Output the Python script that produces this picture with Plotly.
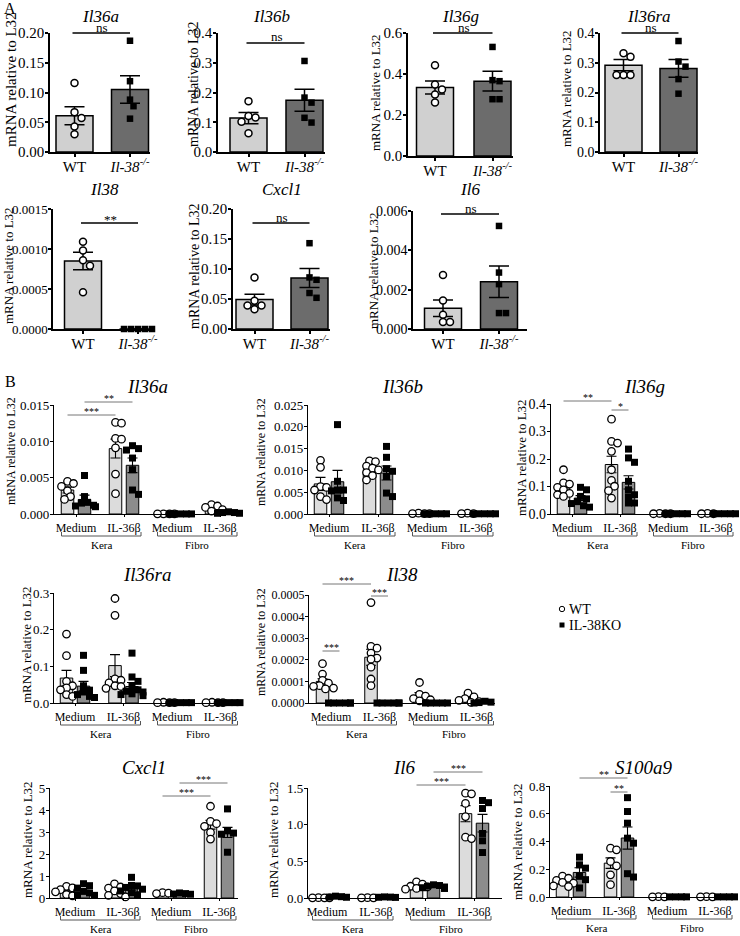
import plotly.graph_objects as go

# ================= DATA =================
# ---- Panel A (WT vs Il-38-/-) ----
A_genes = ["Il36a", "Il36b", "Il36g", "Il36ra", "Il38", "Cxcl1", "Il6"]
A_groups = ["WT", "<i>Il-38<sup>-/-</sup></i>"]
A_sig = ["ns", "ns", "ns", "ns", "**", "ns", "ns"]

A_Il36a_WT = [0.116, 0.067, 0.057, 0.043, 0.030]
A_Il36a_KO = [0.187, 0.119, 0.088, 0.077, 0.056]
A_Il36a_bar = [0.061, 0.105]
A_Il36a_sem = [0.015, 0.023]

A_Il36b_WT = [0.171, 0.121, 0.116, 0.102, 0.063]
A_Il36b_KO = [0.306, 0.183, 0.166, 0.115, 0.099]
A_Il36b_bar = [0.114, 0.174]
A_Il36b_sem = [0.019, 0.037]

A_Il36g_WT = [0.443, 0.349, 0.324, 0.300, 0.261]
A_Il36g_KO = [0.532, 0.370, 0.365, 0.277, 0.277]
A_Il36g_bar = [0.334, 0.365]
A_Il36g_sem = [0.032, 0.048]

A_Il36ra_WT = [0.332, 0.320, 0.259, 0.259, 0.259]
A_Il36ra_KO = [0.373, 0.304, 0.287, 0.245, 0.196]
A_Il36ra_bar = [0.292, 0.281]
A_Il36ra_sem = [0.019, 0.030]

A_Il38_WT = [0.00109, 0.00098, 0.00086, 0.00079, 0.00046]
A_Il38_KO = [0.0, 0.0, 0.0, 0.0, 0.0]
A_Il38_bar = [0.00085, 0.0]
A_Il38_sem = [0.00011, 0.0]

A_Cxcl1_WT = [0.086, 0.047, 0.039, 0.039, 0.033]
A_Cxcl1_KO = [0.143, 0.086, 0.082, 0.060, 0.052]
A_Cxcl1_bar = [0.049, 0.085]
A_Cxcl1_sem = [0.009, 0.016]

A_Il6_WT = [0.00275, 0.00145, 0.00072, 0.00036, 0.00036]
A_Il6_KO = [0.00524, 0.00287, 0.00228, 0.00081, 0.00081]
A_Il6_bar = [0.00105, 0.0024]
A_Il6_sem = [0.00042, 0.0008]

# ---- Panel B (Kera / Fibro, Medium / IL-36b) ----
B_conditions = ["Medium", "IL-36β", "Medium", "IL-36β"]
B_cells = ["Kera", "Fibro"]
B_legend = ["WT", "IL-38KO"]
B_genes = ["Il36a", "Il36b", "Il36g", "Il36ra", "Il38", "Cxcl1", "Il6", "S100a9"]

B_Il36a_WT = [[0.0045, 0.0042, 0.0038, 0.0032, 0.0024, 0.0020],
              [0.0126, 0.0125, 0.0104, 0.0103, 0.0091, 0.0055, 0.0028],
              [0.00003, 0.00002, 0.00002, 0.00001],
              [0.0013, 0.0011, 0.0009, 0.0006, 0.0004]]
B_Il36a_KO = [[0.0053, 0.0024, 0.0016, 0.0015, 0.0012, 0.0011, 0.0010],
              [0.0094, 0.0090, 0.0088, 0.0077, 0.0061, 0.0033, 0.0027],
              [0.00001, 0.00001, 0.00001, 0.00001, 0.00001],
              [0.0003, 0.0002, 0.0002, 0.0001, 0.0001]]
B_Il36a_WT_bar = [0.0033, 0.0090, 0.00002, 0.0008]
B_Il36a_WT_sem = [0.0004, 0.0013, 0.00001, 0.0002]
B_Il36a_KO_bar = [0.0020, 0.0067, 0.00001, 0.0002]
B_Il36a_KO_sem = [0.0006, 0.0010, 0.0, 0.00005]

B_Il36b_WT = [[0.0123, 0.0107, 0.0063, 0.0061, 0.0055, 0.0040, 0.0033],
              [0.0122, 0.0120, 0.0110, 0.0105, 0.0101, 0.0095, 0.0088, 0.0078],
              [0.0002, 0.0001, 0.0001, 0.0001],
              [0.0002, 0.0001, 0.0001]]
B_Il36b_KO = [[0.0205, 0.0075, 0.0055, 0.0055, 0.0053, 0.0037, 0.0031],
              [0.0155, 0.0130, 0.0104, 0.0098, 0.0086, 0.0048, 0.0040],
              [0.00005, 0.00005, 0.00005, 0.00005, 0.00005],
              [0.00005, 0.00005, 0.00005, 0.00005, 0.00005]]
B_Il36b_WT_bar = [0.0069, 0.0102, 0.0001, 0.0001]
B_Il36b_WT_sem = [0.0015, 0.0005, 0.00002, 0.00002]
B_Il36b_KO_bar = [0.0074, 0.0094, 0.00005, 0.00005]
B_Il36b_KO_sem = [0.0026, 0.0016, 0.0, 0.0]

B_Il36g_WT = [[0.161, 0.113, 0.109, 0.097, 0.088, 0.075, 0.070, 0.064],
              [0.345, 0.264, 0.258, 0.228, 0.161, 0.122, 0.101, 0.085, 0.058],
              [0.002, 0.001, 0.001, 0.001],
              [0.002, 0.001, 0.001]]
B_Il36g_KO = [[0.097, 0.088, 0.064, 0.055, 0.045, 0.038, 0.030, 0.025],
              [0.236, 0.204, 0.188, 0.119, 0.088, 0.070, 0.062, 0.040, 0.040],
              [0.001, 0.001, 0.001, 0.001, 0.001],
              [0.001, 0.001, 0.001, 0.001, 0.001]]
B_Il36g_WT_bar = [0.095, 0.180, 0.001, 0.001]
B_Il36g_WT_sem = [0.011, 0.030, 0.0003, 0.0003]
B_Il36g_KO_bar = [0.058, 0.115, 0.001, 0.001]
B_Il36g_KO_sem = [0.009, 0.024, 0.0, 0.0]

B_Il36ra_WT = [[0.188, 0.129, 0.059, 0.047, 0.041, 0.036, 0.023, 0.018],
               [0.285, 0.239, 0.066, 0.062, 0.055, 0.047, 0.045, 0.040],
               [0.002, 0.001, 0.001, 0.001],
               [0.002, 0.001, 0.001, 0.001]]
B_Il36ra_KO = [[0.130, 0.089, 0.047, 0.035, 0.030, 0.023, 0.018, 0.015],
               [0.136, 0.071, 0.059, 0.045, 0.036, 0.032, 0.030, 0.025, 0.023, 0.020],
               [0.001, 0.001, 0.001, 0.001, 0.001],
               [0.001, 0.001, 0.001, 0.001, 0.001]]
B_Il36ra_WT_bar = [0.068, 0.102, 0.001, 0.001]
B_Il36ra_WT_sem = [0.021, 0.030, 0.0003, 0.0003]
B_Il36ra_KO_bar = [0.046, 0.045, 0.001, 0.001]
B_Il36ra_KO_sem = [0.013, 0.011, 0.0, 0.0]

B_Il38_WT = [[0.000182, 0.000134, 0.000105, 0.000092, 0.000080, 0.000077, 0.000069, 0.000065],
             [0.000465, 0.000262, 0.000254, 0.000231, 0.000208, 0.000203, 0.000166, 0.000111, 0.000080],
             [0.000095, 0.000040, 0.000032, 0.000020, 0.000015, 0.000010],
             [0.000046, 0.000028, 0.000020, 0.000012, 0.000006, 0.000003]]
B_Il38_KO = [[0.0, 0.0, 0.0, 0.0, 0.0, 0.0],
             [0.0, 0.0, 0.0, 0.0, 0.0, 0.0],
             [0.0, 0.0, 0.0, 0.0, 0.0],
             [0.000008, 0.000004, 0.000002, 0.0, 0.0]]
B_Il38_WT_bar = [0.000100, 0.000212, 0.000035, 0.000019]
B_Il38_WT_sem = [0.000012, 0.000037, 0.000013, 0.000007]
B_Il38_KO_bar = [0.0, 0.0, 0.0, 0.000003]
B_Il38_KO_sem = [0.0, 0.0, 0.0, 0.000002]

B_Cxcl1_WT = [[0.53, 0.46, 0.38, 0.32, 0.28, 0.16, 0.10],
              [0.64, 0.50, 0.45, 0.32, 0.20, 0.12, 0.05],
              [0.24, 0.22, 0.20],
              [4.17, 3.48, 3.38, 3.26, 2.98, 2.68]]
B_Cxcl1_KO = [[0.65, 0.56, 0.45, 0.30, 0.23, 0.15, 0.12],
              [0.94, 0.57, 0.55, 0.48, 0.40, 0.32, 0.24, 0.15],
              [0.23, 0.20, 0.18, 0.17],
              [4.05, 3.05, 2.95, 2.90, 2.85, 2.08]]
B_Cxcl1_WT_bar = [0.32, 0.33, 0.21, 3.33]
B_Cxcl1_WT_sem = [0.06, 0.08, 0.02, 0.20]
B_Cxcl1_KO_bar = [0.35, 0.45, 0.19, 2.98]
B_Cxcl1_KO_sem = [0.07, 0.09, 0.01, 0.23]

B_Il6_WT = [[0.004, 0.003, 0.002, 0.002],
            [0.004, 0.003, 0.002],
            [0.22, 0.19, 0.16, 0.15, 0.13, 0.12],
            [1.43, 1.42, 1.29, 1.11, 0.83, 0.81]]
B_Il6_KO = [[0.025, 0.018, 0.012, 0.010],
            [0.015, 0.012, 0.010, 0.008],
            [0.18, 0.17, 0.16, 0.15, 0.14, 0.13],
            [1.33, 1.30, 1.22, 0.88, 0.78, 0.62]]
B_Il6_WT_bar = [0.003, 0.003, 0.16, 1.15]
B_Il6_WT_sem = [0.0005, 0.0005, 0.015, 0.11]
B_Il6_KO_bar = [0.016, 0.011, 0.155, 1.02]
B_Il6_KO_sem = [0.004, 0.002, 0.008, 0.12]

B_S100a9_WT = [[0.150, 0.135, 0.120, 0.105, 0.100, 0.080, 0.075],
               [0.352, 0.340, 0.256, 0.225, 0.160, 0.089],
               [0.002, 0.001, 0.001],
               [0.002, 0.001, 0.001]]
B_S100a9_KO = [[0.287, 0.232, 0.208, 0.149, 0.125, 0.065],
               [0.716, 0.616, 0.532, 0.424, 0.388, 0.168, 0.144],
               [0.001, 0.001, 0.001, 0.001],
               [0.001, 0.001, 0.001, 0.001]]
B_S100a9_WT_bar = [0.105, 0.244, 0.001, 0.001]
B_S100a9_WT_sem = [0.012, 0.038, 0.0003, 0.0003]
B_S100a9_KO_bar = [0.177, 0.425, 0.001, 0.001]
B_S100a9_KO_sem = [0.034, 0.080, 0.0, 0.0]

# ================= LAYOUT / STYLE =================
W, H = 740, 936
FONT = "Liberation Serif, Times New Roman, serif"
A_WT_COL, A_KO_COL = "#d0d0d0", "#6c6c6c"
B_WT_COL, B_KO_COL = "#dcdcdc", "#8c8c8c"

A_data = {
    "Il36a": (A_Il36a_WT, A_Il36a_KO, A_Il36a_bar, A_Il36a_sem),
    "Il36b": (A_Il36b_WT, A_Il36b_KO, A_Il36b_bar, A_Il36b_sem),
    "Il36g": (A_Il36g_WT, A_Il36g_KO, A_Il36g_bar, A_Il36g_sem),
    "Il36ra": (A_Il36ra_WT, A_Il36ra_KO, A_Il36ra_bar, A_Il36ra_sem),
    "Il38": (A_Il38_WT, A_Il38_KO, A_Il38_bar, A_Il38_sem),
    "Cxcl1": (A_Cxcl1_WT, A_Cxcl1_KO, A_Cxcl1_bar, A_Cxcl1_sem),
    "Il6": (A_Il6_WT, A_Il6_KO, A_Il6_bar, A_Il6_sem),
}
B_data = {
    "Il36a": (B_Il36a_WT, B_Il36a_KO, B_Il36a_WT_bar, B_Il36a_WT_sem, B_Il36a_KO_bar, B_Il36a_KO_sem),
    "Il36b": (B_Il36b_WT, B_Il36b_KO, B_Il36b_WT_bar, B_Il36b_WT_sem, B_Il36b_KO_bar, B_Il36b_KO_sem),
    "Il36g": (B_Il36g_WT, B_Il36g_KO, B_Il36g_WT_bar, B_Il36g_WT_sem, B_Il36g_KO_bar, B_Il36g_KO_sem),
    "Il36ra": (B_Il36ra_WT, B_Il36ra_KO, B_Il36ra_WT_bar, B_Il36ra_WT_sem, B_Il36ra_KO_bar, B_Il36ra_KO_sem),
    "Il38": (B_Il38_WT, B_Il38_KO, B_Il38_WT_bar, B_Il38_WT_sem, B_Il38_KO_bar, B_Il38_KO_sem),
    "Cxcl1": (B_Cxcl1_WT, B_Cxcl1_KO, B_Cxcl1_WT_bar, B_Cxcl1_WT_sem, B_Cxcl1_KO_bar, B_Cxcl1_KO_sem),
    "Il6": (B_Il6_WT, B_Il6_KO, B_Il6_WT_bar, B_Il6_WT_sem, B_Il6_KO_bar, B_Il6_KO_sem),
    "S100a9": (B_S100a9_WT, B_S100a9_KO, B_S100a9_WT_bar, B_S100a9_WT_sem, B_S100a9_KO_bar, B_S100a9_KO_sem),
}

# pixel geometry of each subplot (layout only)
A_geom = [
    dict(ax=50, end=150, wt=74.5, ko=130, top=33, zero=152, ymax=0.20, dtick=0.05, fmt=".2f", tf=15, sig_y=33, yt=(11, 80, 15), ty=16),
    dict(ax=218, end=325, wt=248.5, ko=304.5, top=33, zero=152, ymax=0.4, dtick=0.1, fmt=".1f", tf=15, sig_y=43, yt=(193, 84, 14), ty=16),
    dict(ax=408, end=513, wt=435, ko=492.5, top=33, zero=156, ymax=0.6, dtick=0.2, fmt=".1f", tf=15, sig_y=33, yt=(376, 93, 13), ty=16),
    dict(ax=600, end=698, wt=623.5, ko=678.5, top=33, zero=152, ymax=0.4, dtick=0.1, fmt=".1f", tf=14, sig_y=33, yt=(566, 89, 13), ty=16),
    dict(ax=53, end=155, wt=83, ko=138, top=209, zero=329, ymax=0.0015, dtick=0.0005, fmt=".4f", tf=13, sig_y=223, yt=(8, 266, 13), ty=190),
    dict(ax=233, end=330, wt=254.5, ko=309.5, top=209, zero=329, ymax=0.20, dtick=0.05, fmt=".2f", tf=15, sig_y=223, yt=(194, 266, 14), ty=190),
    dict(ax=413, end=527, wt=443, ko=499, top=211, zero=329, ymax=0.006, dtick=0.002, fmt=".3f", tf=14, sig_y=214, yt=(373, 270, 13), ty=190),
]
B_geom = [
    dict(ax=54, end=240, g0=76, sp=48, top=405, zero=514, ymax=0.015, dtick=0.005, fmt=".3f", tf=13, yt=(11, 451, 12), ty=386),
    dict(ax=308, end=497, g0=329, sp=49, top=405, zero=514, ymax=0.025, dtick=0.005, fmt=".3f", tf=13, yt=(261, 452, 12), ty=386),
    dict(ax=551, end=737, g0=572, sp=48, top=404, zero=514, ymax=0.4, dtick=0.1, fmt=".1f", tf=14, yt=(521, 458, 13), ty=386),
    dict(ax=54, end=240, g0=75, sp=48.5, top=593, zero=703, ymax=0.3, dtick=0.1, fmt=".1f", tf=13, yt=(26, 645, 13), ty=574),
    dict(ax=309, end=495, g0=331, sp=48.5, top=595, zero=703, ymax=0.0005, dtick=0.0001, fmt=".4f", tf=12, yt=(261, 642, 12), ty=574),
    dict(ax=50, end=238, g0=75, sp=48, top=788, zero=898, ymax=5, dtick=1, fmt="d", tf=13, yt=(27, 840, 13), ty=767),
    dict(ax=308, end=502, g0=327, sp=49, top=788, zero=898, ymax=1.5, dtick=0.5, fmt=".1f", tf=13, yt=(273, 840, 13), ty=767),
    dict(ax=550, end=738, g0=571, sp=48, top=786, zero=897, ymax=0.8, dtick=0.2, fmt=".1f", tf=13, yt=(517, 842, 13), ty=767),
]
# significance brackets in B: (gene index, (group, genotype), (group, genotype), line y px, label)
B_sig = [
    (0, (0, 0), (1, 0), 415, "***"), (0, (0, 1), (1, 1), 402, "**"),
    (2, (0, 0), (1, 0), 401, "**"), (2, (1, 0), (1, 1), 410, "*"),
    (4, (0, 0), (1, 0), 584, "***"), (4, (0, 0), (0, 1), 651, "***"), (4, (1, 0), (1, 1), 596, "***"),
    (5, (2, 0), (3, 0), 796, "***"), (5, (2, 1), (3, 1), 783, "***"),
    (6, (2, 0), (3, 0), 785, "***"), (6, (2, 1), (3, 1), 772, "***"),
    (7, (0, 1), (1, 1), 778, "**"), (7, (1, 0), (1, 1), 792, "**"),
]
B_OFF, B_BW = 8.5, 12.5


def PX(x):
    return x / W


def PY(y):
    return 1 - y / H


def swarm(vals, ppu_y, ppu_x, d, maxhw):
    placed = []
    res = [0.0] * len(vals)
    order = sorted(range(len(vals)), key=lambda i: -vals[i])
    cands = [0.0]
    for j in range(1, 40):
        cands += [j * d * 0.5, -j * d * 0.5]
    for i in order:
        y = vals[i] * ppu_y
        chosen = cands[-1]
        for c in cands:
            if all((c - px) ** 2 + (y - py) ** 2 >= d * d for px, py in placed):
                chosen = c
                break
        chosen = max(-maxhw, min(maxhw, chosen))
        placed.append((chosen, y))
        res[i] = chosen / ppu_x
    return res


fig = go.Figure()
layout = {}
annotations = []
shapes = []
counter = [0]


def add_axes(ax, end, top, zero, xr, ymax, dtick, fmt, tickvals, ticktext, ytf, xtf, lw, xticklen, xstand):
    counter[0] += 1
    i = counter[0]
    s = "" if i == 1 else str(i)
    layout["xaxis" + s] = dict(domain=[ax / W, end / W], range=xr, anchor="y" + s, automargin=False,
                               showline=True, linecolor="black", linewidth=lw,
                               ticks="outside", ticklen=xticklen, tickwidth=lw, tickcolor="black",
                               tickmode="array", tickvals=tickvals, ticktext=ticktext,
                               ticklabelstandoff=xstand,
                               tickfont=dict(family=FONT, size=xtf, color="black"),
                               showgrid=False, zeroline=False, fixedrange=True)
    layout["yaxis" + s] = dict(domain=[1 - zero / H, 1 - top / H], range=[0, ymax], anchor="x" + s,
                               automargin=False,
                               showline=True, linecolor="black", linewidth=lw,
                               ticks="outside", ticklen=3, tickwidth=lw, tickcolor="black",
                               tickmode="linear", tick0=0, dtick=dtick, tickformat=fmt,
                               ticklabelstandoff=-2,
                               tickfont=dict(family=FONT, size=ytf, color="black"),
                               showgrid=False, zeroline=False, fixedrange=True)
    return "x" + s, "y" + s


def text(x, y, t, size, italic=False, angle=0, xanchor="center", yanchor="middle", color="black"):
    if italic:
        t = "<i>" + t + "</i>"
    annotations.append(dict(x=PX(x), y=PY(y), xref="paper", yref="paper", text=t, showarrow=False,
                            textangle=angle, xanchor=xanchor, yanchor=yanchor,
                            font=dict(family=FONT, size=size, color=color)))


def hline(x0, x1, y, color="black", width=1):
    shapes.append(dict(type="line", xref="paper", yref="paper", x0=PX(x0), x1=PX(x1), y0=PY(y), y1=PY(y),
                       line=dict(color=color, width=width)))


YLABEL = "mRNA relative to L32"

# ---------------- Panel A ----------------
for gene, g, sig in zip(A_genes, A_geom, A_sig):
    wt, ko, bar, sem = A_data[gene]
    sp = g["ko"] - g["wt"]
    xr = [-(g["wt"] - g["ax"]) / sp, (g["end"] - g["wt"]) / sp]
    xa, ya = add_axes(g["ax"], g["end"], g["top"], g["zero"], xr, g["ymax"], g["dtick"], g["fmt"],
                      [0, 1], A_groups, g["tf"], 15, 1.5, 3, -3)
    fig.add_trace(go.Bar(x=[0, 1], y=bar, width=37 / sp, xaxis=xa, yaxis=ya,
                         marker=dict(color=[A_WT_COL, A_KO_COL], line=dict(color="black", width=1.5)),
                         error_y=dict(type="data", array=sem, color="black", thickness=1.5, width=10),
                         showlegend=False, hoverinfo="skip"))
    ppu_y = (g["zero"] - g["top"]) / g["ymax"]
    for k, vals in enumerate([wt, ko]):
        offs = swarm(vals, ppu_y, sp, 7.0, 15)
        fig.add_trace(go.Scatter(x=[k + o for o in offs], y=vals, mode="markers", xaxis=xa, yaxis=ya,
                                 cliponaxis=False, showlegend=False, hoverinfo="skip",
                                 marker=dict(symbol="circle" if k == 0 else "square",
                                             size=7 if k == 0 else 6.5,
                                             color="white" if k == 0 else "black",
                                             line=dict(color="black", width=1.5 if k == 0 else 0))))
    # title, y label, significance
    text((g["ax"] + g["end"]) / 2, g["ty"], gene, 17, italic=True)
    text(g["yt"][0], g["yt"][1], YLABEL, g["yt"][2], angle=-90)
    hline(g["wt"] - 2, g["ko"], g["sig_y"], "black", 1.3)
    text((g["wt"] + g["ko"]) / 2, g["sig_y"] - (6 if sig == "ns" else 4), sig, 13)

# ---------------- Panel B ----------------
for gi, (gene, g) in enumerate(zip(B_genes, B_geom)):
    wt, ko, wbar, wsem, kbar, ksem = B_data[gene]
    sp = g["sp"]
    xr = [-(g["g0"] - g["ax"]) / sp, (g["end"] - g["g0"]) / sp]
    xa, ya = add_axes(g["ax"], g["end"], g["top"], g["zero"], xr, g["ymax"], g["dtick"], g["fmt"],
                      [0, 1, 2, 3], B_conditions, g["tf"], 12, 1.2, 2, 0)
    off = B_OFF / sp
    pos = [[c - off for c in range(4)], [c + off for c in range(4)]]
    for k, (b, e, col) in enumerate([(wbar, wsem, B_WT_COL), (kbar, ksem, B_KO_COL)]):
        fig.add_trace(go.Bar(x=pos[k], y=b, width=B_BW / sp, xaxis=xa, yaxis=ya,
                             marker=dict(color=col, line=dict(color="black", width=1)),
                             error_y=dict(type="data", array=e, color="black", thickness=1.1, width=5),
                             showlegend=False, hoverinfo="skip"))
    ppu_y = (g["zero"] - g["top"]) / g["ymax"]
    for k, groups in enumerate([wt, ko]):
        xs, ys = [], []
        for c, vals in enumerate(groups):
            offs = swarm(vals, ppu_y, sp, 6.0, 11)
            xs += [pos[k][c] + o for o in offs]
            ys += vals
        fig.add_trace(go.Scatter(x=xs, y=ys, mode="markers", xaxis=xa, yaxis=ya,
                                 cliponaxis=False, showlegend=False, hoverinfo="skip",
                                 marker=dict(symbol="circle" if k == 0 else "square",
                                             size=7.5 if k == 0 else 7,
                                             color="white" if k == 0 else "black",
                                             line=dict(color="black", width=1.3 if k == 0 else 0))))
    text((g["ax"] + g["end"]) / 2, g["ty"], gene, 19, italic=True)
    text(g["yt"][0], g["yt"][1], YLABEL, g["yt"][2], angle=-90)
    # Kera / Fibro brackets
    for ci, cell in enumerate(B_cells):
        x0 = g["g0"] + (2 * ci) * sp - 14.5
        x1 = g["g0"] + (2 * ci + 1) * sp + 17
        yb = g["zero"] + 22
        shapes.append(dict(type="path", xref="paper", yref="paper",
                           path=f"M {PX(x0)},{PY(yb - 4)} L {PX(x0)},{PY(yb)} L {PX(x1)},{PY(yb)} L {PX(x1)},{PY(yb - 4)}",
                           line=dict(color="#555555", width=1)))
        text((x0 + x1) / 2, g["zero"] + 31, cell, 11)

for gi, (ga, gg), (gb, gh), ly, lab in B_sig:
    g = B_geom[gi]
    sp = g["sp"]
    xa_px = g["g0"] + ga * sp + (-B_OFF if gg == 0 else B_OFF)
    xb_px = g["g0"] + gb * sp + (-B_OFF if gh == 0 else B_OFF)
    hline(xa_px, xb_px, ly, "#777777", 1)
    text((xa_px + xb_px) / 2, ly - 4, lab, 10)

# legend (drawn)
shapes.append(dict(type="circle", xref="paper", yref="paper", x0=PX(559.3), x1=PX(564.7), y0=PY(611.7), y1=PY(606.3),
                   line=dict(color="black", width=1), fillcolor="white"))
shapes.append(dict(type="rect", xref="paper", yref="paper", x0=PX(559.5), x1=PX(564.5), y0=PY(627.5), y1=PY(622.5),
                   line=dict(color="black", width=0), fillcolor="black"))
text(567, 609, B_legend[0], 14, xanchor="left")
text(567, 625, B_legend[1], 14, xanchor="left")

# panel letters
text(10, 9, "A", 16)
text(10, 381, "B", 16)

layout.update(dict(template="none", width=W, height=H,
                   margin=dict(l=0, r=0, t=0, b=0, pad=0, autoexpand=False),
                   paper_bgcolor="white", plot_bgcolor="white", showlegend=False,
                   barmode="overlay", annotations=annotations, shapes=shapes,
                   font=dict(family=FONT, color="black")))
fig.update_layout(**layout)
fig.write_html("out.html", config={"displayModeBar": False},
               post_script="document.body.style.margin='0';document.body.style.overflow='hidden';")
